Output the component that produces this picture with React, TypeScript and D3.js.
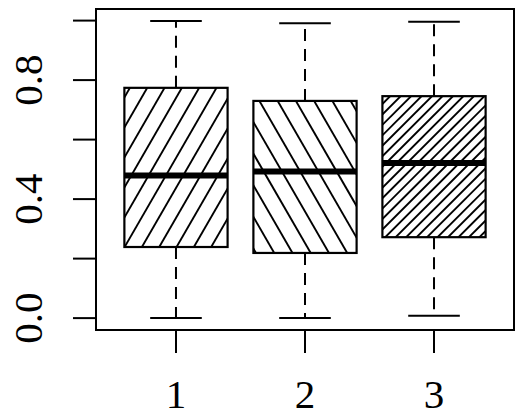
import React from 'react';
import * as d3 from 'd3';

// box statistics (lower whisker, Q1, median, Q3, upper whisker)
const groups = ['1', '2', '3'];
const lowerWhisker = [0.0, 0.0, 0.008];
const q1 = [0.239, 0.219, 0.272];
const median = [0.479, 0.493, 0.521];
const q3 = [0.774, 0.73, 0.746];
const upperWhisker = [0.999, 0.991, 0.996];
const yTicks = [0, 0.2, 0.4, 0.6, 0.8, 1.0];
const yLabels = ['0.0', '', '0.4', '', '0.8', ''];

// hatching per box: angle (deg), perpendicular spacing (px), phase (px)
const hatchAngle = [60, 120, 45];
const hatchSpacing = [15, 15.8, 7.4];
const hatchPhase = [6.4, 0.4, 3.5];

const W = 520;
const H = 420;
const plot = { left: 96, right: 514, top: 9, bottom: 330 };
const font = '"Liberation Serif", "Times New Roman", serif';

const App: React.FC = () => {
  const n = groups.length;
  const x = d3.scaleLinear()
    .domain([0.5 - 0.04 * n, n + 0.5 + 0.04 * n])
    .range([plot.left, plot.right]);

  const lo = d3.min(lowerWhisker) as number;
  const hi = d3.max(upperWhisker) as number;
  const pad = (hi - lo) * 0.04;
  const y = d3.scaleLinear()
    .domain([lo - pad, hi + pad])
    .range([plot.bottom, plot.top]);

  const unit = x(2) - x(1);
  const boxHalf = unit * 0.4;
  const capHalf = boxHalf / 2;
  const tickLen = 23;

  const hatchLines = (i: number, x0: number, y0: number, x1: number, y1: number) => {
    const th = (hatchAngle[i] * Math.PI) / 180;
    const nx = Math.sin(th);
    const ny = Math.cos(th);
    const dx = Math.cos(th);
    const dy = -Math.sin(th);
    const corners = [[x0, y0], [x1, y0], [x0, y1], [x1, y1]].map(([a, b]) => a * nx + b * ny);
    const cMin = Math.min(...corners);
    const cMax = Math.max(...corners);
    const d = hatchSpacing[i];
    const start = Math.floor((cMin - hatchPhase[i]) / d) * d + hatchPhase[i];
    const cx = (x0 + x1) / 2;
    const cy = (y0 + y1) / 2;
    const c0 = cx * nx + cy * ny;
    const L = Math.hypot(x1 - x0, y1 - y0);
    const out: { x1: number; y1: number; x2: number; y2: number }[] = [];
    for (let c = start; c <= cMax + d; c += d) {
      const px = cx + (c - c0) * nx;
      const py = cy + (c - c0) * ny;
      out.push({ x1: px - dx * L, y1: py - dy * L, x2: px + dx * L, y2: py + dy * L });
    }
    return out;
  };

  return (
    <>
      <style>{'body{margin:0}'}</style>
      <svg width={W} height={H} style={{ display: 'block', background: '#fff' }}>
        <defs>
          {groups.map((g, i) => (
            <clipPath id={`box-clip-${i}`} key={g}>
              <rect
                x={x(i + 1) - boxHalf}
                y={y(q3[i])}
                width={boxHalf * 2}
                height={y(q1[i]) - y(q3[i])}
              />
            </clipPath>
          ))}
        </defs>

        {groups.map((g, i) => {
          const cx = x(i + 1);
          const bx0 = cx - boxHalf;
          const bx1 = cx + boxHalf;
          const top = y(q3[i]);
          const bot = y(q1[i]);
          return (
            <g key={g}>
              {/* whiskers */}
              <line x1={cx} x2={cx} y1={top} y2={y(upperWhisker[i])} stroke="#000" strokeWidth={2} strokeDasharray="12,8" />
              <line x1={cx} x2={cx} y1={bot} y2={y(lowerWhisker[i])} stroke="#000" strokeWidth={2} strokeDasharray="12,8" />
              <line x1={cx - capHalf} x2={cx + capHalf} y1={y(upperWhisker[i])} y2={y(upperWhisker[i])} stroke="#000" strokeWidth={2} />
              <line x1={cx - capHalf} x2={cx + capHalf} y1={y(lowerWhisker[i])} y2={y(lowerWhisker[i])} stroke="#000" strokeWidth={2} />
              {/* hatching */}
              <g clipPath={`url(#box-clip-${i})`}>
                {hatchLines(i, bx0, top, bx1, bot).map((l, k) => (
                  <line key={k} {...l} stroke="#000" strokeWidth={1.9} />
                ))}
              </g>
              <rect x={bx0} y={top} width={bx1 - bx0} height={bot - top} fill="none" stroke="#000" strokeWidth={2.2} />
              <line x1={bx0} x2={bx1} y1={y(median[i])} y2={y(median[i])} stroke="#000" strokeWidth={6} />
            </g>
          );
        })}

        {/* plot frame */}
        <rect
          x={plot.left}
          y={plot.top}
          width={plot.right - plot.left}
          height={plot.bottom - plot.top}
          fill="none"
          stroke="#000"
          strokeWidth={2}
        />

        {/* y axis */}
        {yTicks.map((t, i) => (
          <g key={t}>
            <line x1={plot.left} x2={plot.left - tickLen} y1={y(t)} y2={y(t)} stroke="#000" strokeWidth={2} />
            {yLabels[i] && (
              <text
                transform={`translate(42,${y(t)}) rotate(-90)`}
                textAnchor="middle"
                fontFamily={font}
                fontSize={41}
              >
                {yLabels[i]}
              </text>
            )}
          </g>
        ))}

        {/* x axis */}
        {groups.map((g, i) => (
          <g key={g}>
            <line x1={x(i + 1)} x2={x(i + 1)} y1={plot.bottom} y2={plot.bottom + tickLen} stroke="#000" strokeWidth={2} />
            <text x={x(i + 1)} y={408} textAnchor="middle" fontFamily={font} fontSize={41}>
              {g}
            </text>
          </g>
        ))}
      </svg>
    </>
  );
};

export default App;
